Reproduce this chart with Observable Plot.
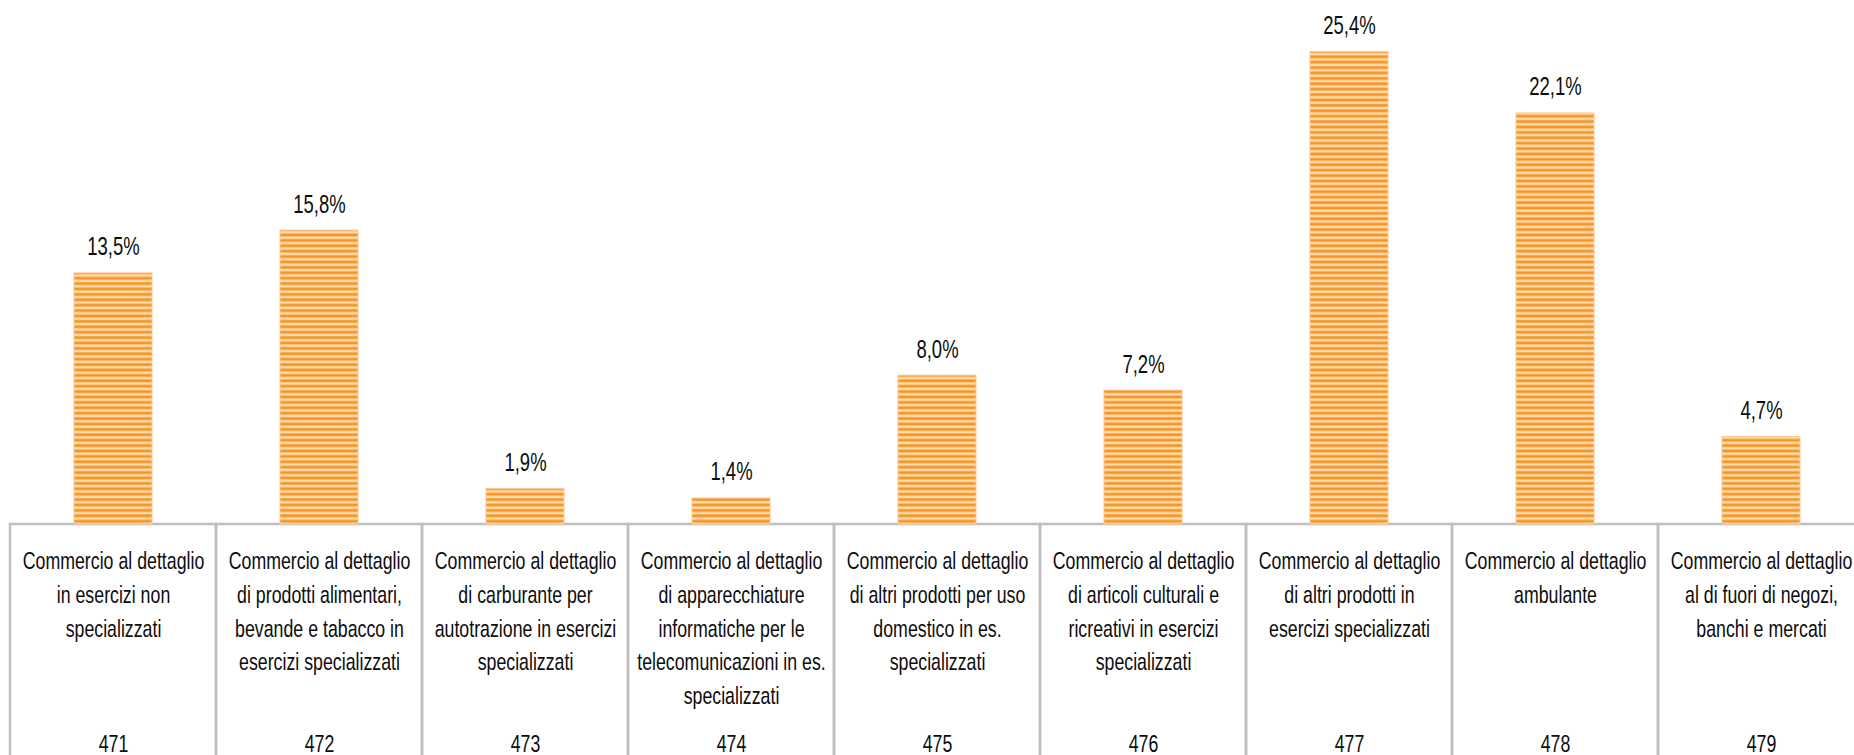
<!DOCTYPE html>
<html>
<head>
<meta charset="utf-8">
<script src="https://cdn.jsdelivr.net/npm/d3@7"></script>
<script src="https://cdn.jsdelivr.net/npm/@observablehq/plot@0.6"></script>
<style>
  html, body { margin: 0; padding: 0; background: #fff; overflow: hidden; }
  #chart { width: 1854px; height: 755px; }
</style>
</head>
<body>
<div id="chart"></div>
<script>
const codes = ["471", "472", "473", "474", "475", "476", "477", "478", "479"];
const labels = [
  "Commercio al dettaglio\nin esercizi non\nspecializzati",
  "Commercio al dettaglio\ndi prodotti alimentari,\nbevande e tabacco in\nesercizi specializzati",
  "Commercio al dettaglio\ndi carburante per\nautotrazione in esercizi\nspecializzati",
  "Commercio al dettaglio\ndi apparecchiature\ninformatiche per le\ntelecomunicazioni in es.\nspecializzati",
  "Commercio al dettaglio\ndi altri prodotti per uso\ndomestico in es.\nspecializzati",
  "Commercio al dettaglio\ndi articoli culturali e\nricreativi in esercizi\nspecializzati",
  "Commercio al dettaglio\ndi altri prodotti in\nesercizi specializzati",
  "Commercio al dettaglio\nambulante",
  "Commercio al dettaglio\nal di fuori di negozi,\nbanchi e mercati"
];
const values = [13.5, 15.8, 1.9, 1.4, 8.0, 7.2, 25.4, 22.1, 4.7];

const data = codes.map((c, i) => ({code: c, label: labels[i], value: values[i]}));
const fmt = v => d3.format(".1f")(v).replace(".", ",") + "%";
const font = "'Liberation Sans', Arial, sans-serif";

const svg = Plot.plot({
  width: 1854,
  height: 755,
  margin: 0,
  style: {fontFamily: font, background: "#fff", overflow: "hidden"},
  x: {domain: codes, range: [10, 1864], padding: 0, axis: null},
  y: {domain: [0, 28], range: [524, 3.2], axis: null},
  marks: [
    // table cells below the axis
    Plot.barY(data, {x: "code", y1: 0, y2: -13, fill: "none", stroke: "#bfbfbf", strokeWidth: 2.5}),
    // bars
    Plot.barY(data, {x: "code", y: "value", insetLeft: 64, insetRight: 64,
      fill: "url(#stripes)", stroke: "#fcc790", strokeWidth: 1}),
    // value labels
    Plot.text(data, {x: "code", y: "value", text: d => fmt(d.value), dy: -18,
      lineAnchor: "bottom", fontSize: 25, fill: "#0d0d0d"}),
    // category labels
    Plot.text(data, {x: "code", y: 0, text: "label", dy: 21, lineAnchor: "top",
      lineHeight: 1.4, fontSize: 24, fill: "#0d0d0d"}),
    // codes
    Plot.text(data, {x: "code", y: 0, text: "code", dy: 227, lineAnchor: "middle",
      fontSize: 24, fill: "#0d0d0d"})
  ]
});

// condensed look: squeeze every text horizontally around its own anchor
d3.select(svg).selectAll("text").each(function() {
  const t = this.getAttribute("transform") || "";
  let base = t;
  if (this.hasAttribute("x") || this.hasAttribute("y")) {
    const x = +this.getAttribute("x") || 0, y = +this.getAttribute("y") || 0;
    this.removeAttribute("x"); this.removeAttribute("y");
    base = `${t} translate(${x},${y})`;
  }
  this.setAttribute("transform", `${base} scale(0.74,1)`);
});

const defs = d3.select(svg).insert("defs", ":first-child");
const pat = defs.append("pattern")
  .attr("id", "stripes")
  .attr("patternUnits", "userSpaceOnUse")
  .attr("width", 10)
  .attr("height", 5.4)
  .attr("y", 524);
pat.append("rect").attr("width", 10).attr("height", 5.4).attr("fill", "#fddcb4");
pat.append("rect").attr("y", 1.2).attr("width", 10).attr("height", 2.8).attr("fill", "#f7951f");

document.getElementById("chart").appendChild(svg);
</script>
</body>
</html>
